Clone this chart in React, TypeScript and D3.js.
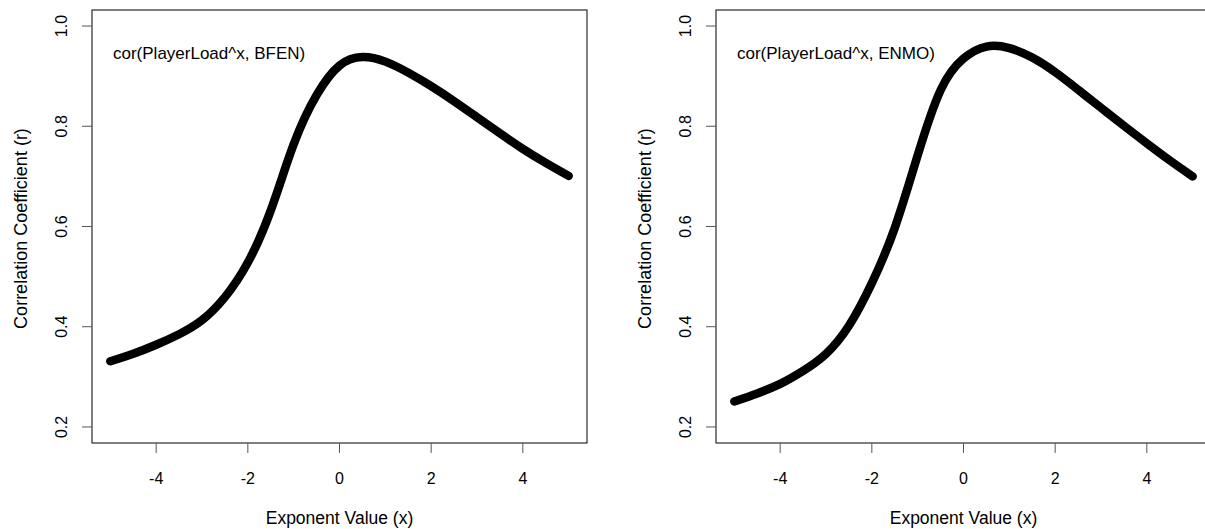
import React from "react";
import * as d3 from "d3";

const exponents = [-5, -4.5, -4, -3.5, -3, -2.5, -2, -1.5, -1, -0.5, 0, 0.5, 1, 1.5, 2, 2.5, 3, 3.5, 4, 4.5, 5];
const corBFEN = [0.331, 0.346, 0.364, 0.385, 0.413, 0.459, 0.528, 0.632, 0.764, 0.862, 0.921, 0.938, 0.929, 0.907, 0.880, 0.850, 0.818, 0.786, 0.755, 0.727, 0.701];
const corENMO = [0.251, 0.267, 0.286, 0.312, 0.346, 0.402, 0.487, 0.597, 0.742, 0.872, 0.935, 0.959, 0.956, 0.937, 0.908, 0.873, 0.837, 0.801, 0.766, 0.732, 0.700];
const xTicks = [-4, -2, 0, 2, 4];
const yTicks = [0.2, 0.4, 0.6, 0.8, 1.0];
const panelLabels = ["cor(PlayerLoad^x, BFEN)", "cor(PlayerLoad^x, ENMO)"];
const xLim = [-5.4, 5.4];
const yLim = [0.168, 1.032];

const FONT = "'Liberation Sans', Arial, Helvetica, sans-serif";

function Panel({ left, series, label }: { left: number; series: number[]; label: string }) {
  const x = d3.scaleLinear().domain(xLim).range([left, left + 495]);
  const y = d3.scaleLinear().domain(yLim).range([443, 10]);
  const line = d3
    .line<number>()
    .x((_, i) => x(exponents[i]))
    .y((d) => y(d))
    .curve(d3.curveNatural);
  const [x0, x1] = x.range();
  const [yb, yt] = y.range();
  const cy = (yb + yt) / 2;
  return (
    <g>
      <rect x={x0} y={yt} width={x1 - x0} height={yb - yt} fill="none" stroke="#000" strokeWidth={1} />
      <path d={line(series) || ""} fill="none" stroke="#000" strokeWidth={8.5} strokeLinecap="round" strokeLinejoin="round" />
      {xTicks.map((t) => (
        <g key={"x" + t}>
          <line x1={x(t)} x2={x(t)} y1={yb} y2={yb + 10} stroke="#555" strokeWidth={1} />
          <text x={x(t)} y={483.5} textAnchor="middle" fontSize={16} fontFamily={FONT} fill="#000">
            {t}
          </text>
        </g>
      ))}
      {yTicks.map((t) => (
        <g key={"y" + t}>
          <line x1={x0} x2={x0 - 10} y1={y(t)} y2={y(t)} stroke="#555" strokeWidth={1} />
          <text
            transform={`translate(${x0 - 25},${y(t)}) rotate(-90)`}
            textAnchor="middle"
            fontSize={16}
            fontFamily={FONT}
            fill="#000"
          >
            {t.toFixed(1)}
          </text>
        </g>
      ))}
      <text x={(x0 + x1) / 2} y={524} textAnchor="middle" fontSize={17.5} fontFamily={FONT} fill="#000">
        Exponent Value (x)
      </text>
      <text
        transform={`translate(${x0 - 65},${cy + 2}) rotate(-90)`}
        textAnchor="middle"
        fontSize={18}
        fontFamily={FONT}
        fill="#000"
      >
        Correlation Coefficient (r)
      </text>
      <text x={x0 + 21} y={58.5} fontSize={17} fontFamily={FONT} fill="#000">
        {label}
      </text>
    </g>
  );
}

export default function App() {
  return (
    <svg
      width={1205}
      height={529}
      style={{ position: "absolute", left: 0, top: 0, background: "#fff" }}
    >
      <rect x={0} y={0} width={1205} height={529} fill="#fff" />
      <Panel left={92} series={corBFEN} label={panelLabels[0]} />
      <Panel left={716} series={corENMO} label={panelLabels[1]} />
    </svg>
  );
}
